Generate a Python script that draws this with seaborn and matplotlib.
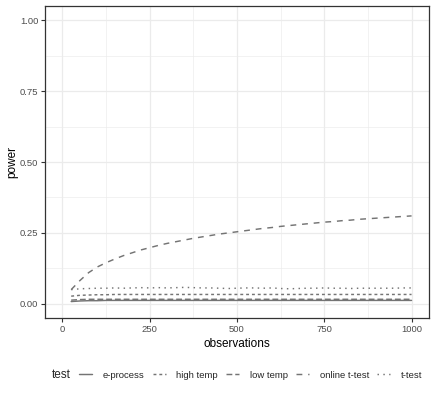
import matplotlib
matplotlib.use("Agg")
import matplotlib.pyplot as plt
from matplotlib.ticker import FixedLocator
import seaborn as sns
import pandas as pd

observations = [25, 50, 75, 100, 125, 150, 175, 200, 225, 250,
                275, 300, 325, 350, 375, 400, 425, 450, 475, 500,
                525, 550, 575, 600, 625, 650, 675, 700, 725, 750,
                775, 800, 825, 850, 875, 900, 925, 950, 975, 1000]

e_process = [0.008, 0.010, 0.011, 0.011, 0.012, 0.012, 0.012, 0.012, 0.012, 0.012,
             0.012, 0.012, 0.012, 0.012, 0.012, 0.012, 0.012, 0.012, 0.012, 0.012,
             0.012, 0.012, 0.012, 0.012, 0.012, 0.012, 0.012, 0.012, 0.012, 0.012,
             0.012, 0.012, 0.012, 0.012, 0.012, 0.012, 0.012, 0.012, 0.012, 0.012]

high_temp = [0.027, 0.030, 0.031, 0.032, 0.032, 0.033, 0.033, 0.033, 0.033, 0.033,
             0.033, 0.033, 0.033, 0.033, 0.033, 0.033, 0.033, 0.033, 0.033, 0.033,
             0.033, 0.033, 0.033, 0.033, 0.033, 0.033, 0.033, 0.033, 0.033, 0.033,
             0.033, 0.033, 0.033, 0.033, 0.033, 0.033, 0.033, 0.033, 0.033, 0.033]

low_temp = [0.013, 0.015, 0.016, 0.016, 0.016, 0.016, 0.016, 0.016, 0.016, 0.016,
            0.016, 0.016, 0.016, 0.016, 0.016, 0.016, 0.016, 0.016, 0.016, 0.016,
            0.016, 0.016, 0.016, 0.016, 0.016, 0.016, 0.016, 0.016, 0.016, 0.016,
            0.016, 0.016, 0.016, 0.016, 0.016, 0.016, 0.016, 0.016, 0.016, 0.016]

online_t_test = [0.050, 0.082, 0.110, 0.130, 0.145, 0.158, 0.170, 0.180, 0.190, 0.198,
                 0.206, 0.213, 0.219, 0.225, 0.231, 0.236, 0.241, 0.246, 0.250, 0.254,
                 0.258, 0.262, 0.266, 0.269, 0.273, 0.276, 0.279, 0.282, 0.285, 0.288,
                 0.290, 0.293, 0.295, 0.298, 0.300, 0.302, 0.304, 0.306, 0.308, 0.310]

t_test = [0.050, 0.053, 0.054, 0.055, 0.055, 0.056, 0.055, 0.056, 0.057, 0.056,
          0.057, 0.056, 0.057, 0.058, 0.057, 0.056, 0.056, 0.055, 0.054, 0.055,
          0.056, 0.056, 0.055, 0.056, 0.054, 0.053, 0.054, 0.055, 0.055, 0.056,
          0.055, 0.055, 0.054, 0.055, 0.055, 0.055, 0.055, 0.055, 0.056, 0.056]

tests = ["e-process", "high temp", "low temp", "online t-test", "t-test"]
series = [e_process, high_temp, low_temp, online_t_test, t_test]
x_ticks = [0, 250, 500, 750, 1000]
x_tick_labels = ["0", "250", "500", "750", "1000"]
y_ticks = [0, 0.25, 0.5, 0.75, 1.0]
y_tick_labels = ["0.00", "0.25", "0.50", "0.75", "1.00"]

rows = []
for name, vals in zip(tests, series):
    for xo, v in zip(observations, vals):
        rows.append({"observations": xo, "power": v, "test": name})
df = pd.DataFrame(rows)

sns.set_style("white")
plt.rcParams['font.family'] = ['Liberation Sans', 'DejaVu Sans']

W, H = 436, 396
fig = plt.figure(figsize=(W / 100, H / 100), dpi=100)
ax = fig.add_axes([45 / W, (H - 318) / H, (429 - 45) / W, (318 - 6) / H])

dashes = {"e-process": "", "high temp": (2, 2), "low temp": (4, 2),
          "online t-test": (4, 4), "t-test": (1, 3)}
line_color = "#747474"

sns.lineplot(data=df, x="observations", y="power", style="test",
             style_order=tests, dashes=dashes, color=line_color,
             linewidth=1.05, ax=ax, legend=True)

ax.set_xlim(-50, 1050)
ax.set_ylim(-0.05, 1.05)
ax.xaxis.set_major_locator(FixedLocator(x_ticks))
ax.xaxis.set_minor_locator(FixedLocator([125, 375, 625, 875]))
ax.yaxis.set_major_locator(FixedLocator(y_ticks))
ax.yaxis.set_minor_locator(FixedLocator([0.125, 0.375, 0.625, 0.875]))
ax.set_yticklabels(y_tick_labels)
ax.set_xticklabels(x_tick_labels)

ax.grid(which="major", color="#ebebeb", linewidth=0.9)
ax.grid(which="minor", color="#ebebeb", linewidth=0.45)
ax.set_axisbelow(True)
for s in ax.spines.values():
    s.set_color("#333333")
    s.set_linewidth(0.9)
ax.tick_params(which="major", length=2.75, width=0.8, color="#333333",
               labelsize=6.8, labelcolor="#4d4d4d", pad=2, left=True, bottom=True)
ax.tick_params(which="minor", length=0, left=False, bottom=False)

ax.set_xlabel("observations", fontsize=8.5, color="black", labelpad=3)
ax.set_ylabel("power", fontsize=8.5, color="black", labelpad=1)

handles, labels = ax.get_legend_handles_labels()
ax.get_legend().remove()
for h in handles:
    h.set_color(line_color)
fig.text(52 / W, 1 - 375 / H, "test", fontsize=8.5, va="center", ha="left")
leg = fig.legend(handles, labels, loc="center left",
                 bbox_to_anchor=(79 / W, 1 - 375 / H), ncol=5, frameon=False,
                 fontsize=6.8, handlelength=1.38, handletextpad=1.1,
                 columnspacing=0.9, borderaxespad=0, borderpad=0)

fig.savefig("out.png", dpi=100, facecolor="white")
